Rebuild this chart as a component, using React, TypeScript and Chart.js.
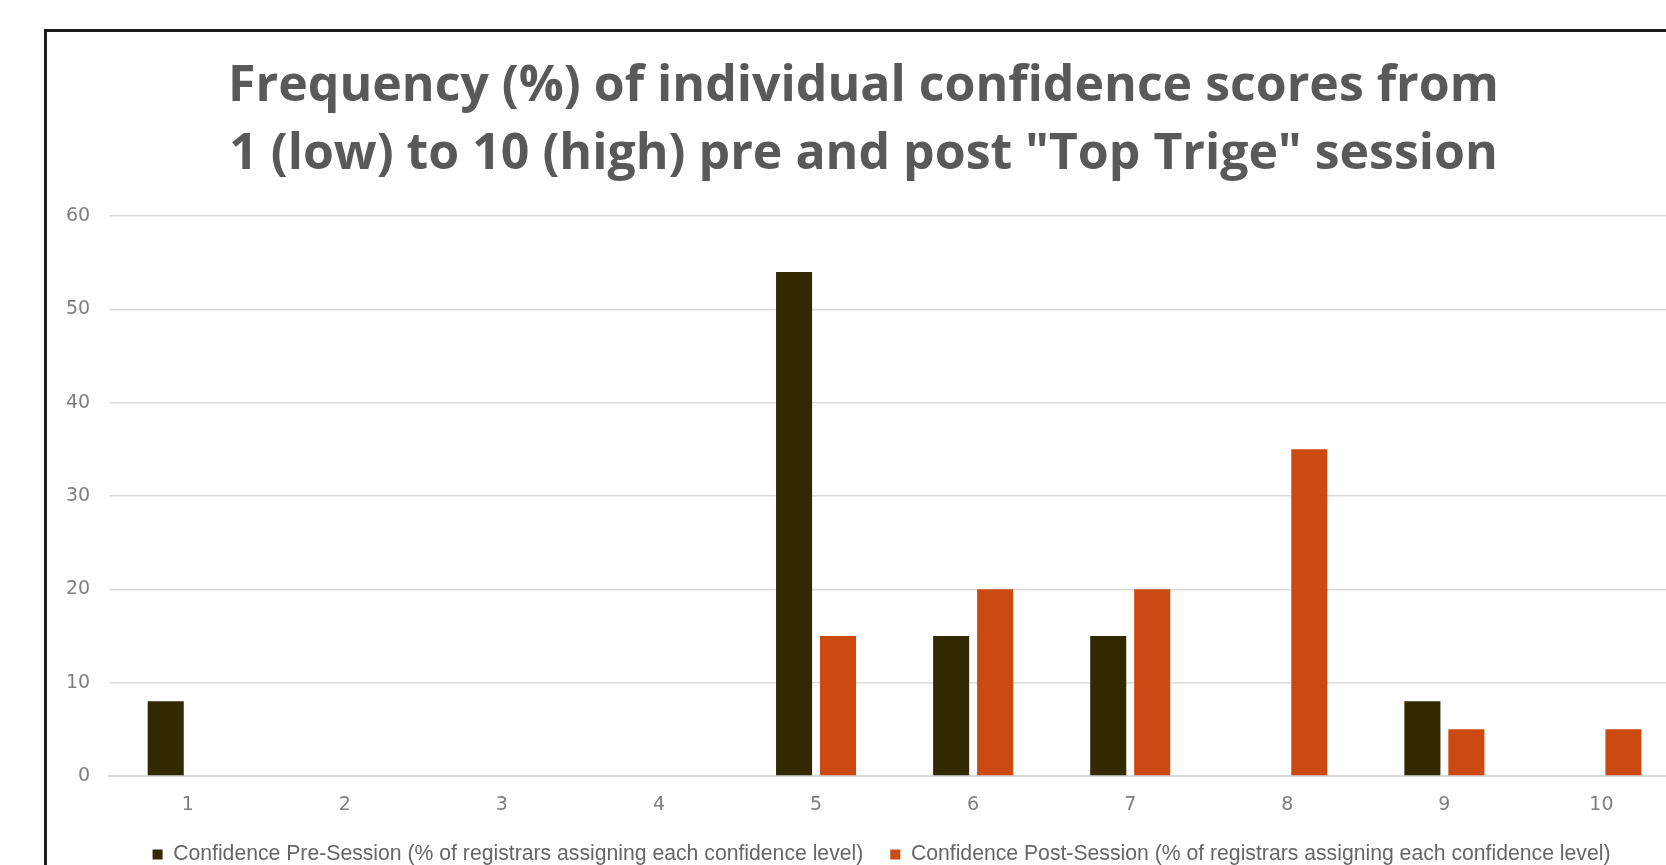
import React, { useEffect, useRef } from "react";
import { Chart, registerables } from "chart.js";

Chart.register(...registerables);

const categories = ["1", "2", "3", "4", "5", "6", "7", "8", "9", "10"];
const preSession = [8, 0, 0, 0, 54, 15, 15, 0, 8, 0];
const postSession = [0, 0, 0, 0, 15, 20, 20, 35, 5, 5];
const seriesLabels = [
  "Confidence Pre-Session (% of registrars assigning each confidence level)",
  "Confidence Post-Session (% of registrars assigning each confidence level)",
];
const titleLines = [
  "Frequency (%) of individual confidence scores from",
  '1 (low) to 10 (high) pre and post "Top Trige" session',
];
const yTicks = [0, 10, 20, 30, 40, 50, 60];

const CANVAS_W = 1662;
const CANVAS_H = 850;
const LEGEND_SHIFT_X = 18;
const LEGEND_GAP_Y = 41;

const legendPlacePlugin = {
  id: "legendPlace",
  afterLayout(chart: any) {
    const lg = chart.legend;
    if (lg) {
      lg.left += LEGEND_SHIFT_X;
      lg.right += LEGEND_SHIFT_X;
      const h = lg.height;
      lg.top = chart.chartArea.bottom + LEGEND_GAP_Y;
      lg.bottom = lg.top + h;
    }
  },
};

export default function App() {
  const ref = useRef<HTMLCanvasElement | null>(null);

  useEffect(() => {
    const canvas = ref.current;
    if (!canvas) return;
    const chart = new Chart(canvas, {
      type: "bar",
      data: {
        labels: categories,
        datasets: [
          {
            label: seriesLabels[0],
            data: preSession,
            backgroundColor: "#332900",
            borderWidth: 0,
            categoryPercentage: 0.56,
            barPercentage: 0.82,
          },
          {
            label: seriesLabels[1],
            data: postSession,
            backgroundColor: "#CC4A12",
            borderWidth: 0,
            categoryPercentage: 0.56,
            barPercentage: 0.82,
          },
        ],
      },
      plugins: [legendPlacePlugin],
      options: {
        responsive: false,
        animation: false,
        devicePixelRatio: 1,
        layout: { padding: { left: 0, right: 29, top: 0, bottom: 6 } },
        plugins: {
          title: {
            display: true,
            text: titleLines,
            color: "#595959",
            font: { family: "Open Sans", size: 50, weight: "bold", lineHeight: 1.36 },
            padding: { top: 21, bottom: 27 },
          },
          legend: {
            display: true,
            position: "bottom",
            labels: {
              boxWidth: 10,
              boxHeight: 10,
              padding: 27,
              color: "#666666",
              font: { family: "Liberation Sans", size: 21.2 },
            },
          },
          tooltip: { enabled: false },
        },
        scales: {
          x: {
            grid: { display: false, drawTicks: false },
            border: { display: true, color: "#d9d9d9", width: 2 },
            ticks: {
              color: "#7f7f7f",
              padding: 18,
              font: { family: "DejaVu Sans", size: 19 },
            },
            afterFit: (scale: any) => {
              scale.height = scale.height - 17;
            },
          },
          y: {
            min: 0,
            max: 60,
            afterBuildTicks: (axis: any) => {
              axis.ticks = yTicks.map((v) => ({ value: v }));
            },
            grid: { color: "#dcdcdc", lineWidth: 1.5, drawTicks: false },
            border: { display: false },
            ticks: {
              color: "#7f7f7f",
              padding: 19,
              font: { family: "DejaVu Sans", size: 19 },
            },
          },
        },
      },
    });
    return () => chart.destroy();
  }, []);

  return (
    <div
      style={{
        position: "fixed",
        left: 0,
        top: 0,
        width: "100vw",
        height: "100vh",
        overflow: "hidden",
        background: "#ffffff",
      }}
    >
      <div
        style={{
          position: "absolute",
          left: 44,
          top: 29,
          width: 1720,
          height: 900,
          border: "3px solid #1c1c1c",
          background: "#ffffff",
        }}
      >
        <canvas
          ref={ref}
          width={CANVAS_W}
          height={CANVAS_H}
          style={{ display: "block", width: CANVAS_W, height: CANVAS_H }}
        />
      </div>
    </div>
  );
}
